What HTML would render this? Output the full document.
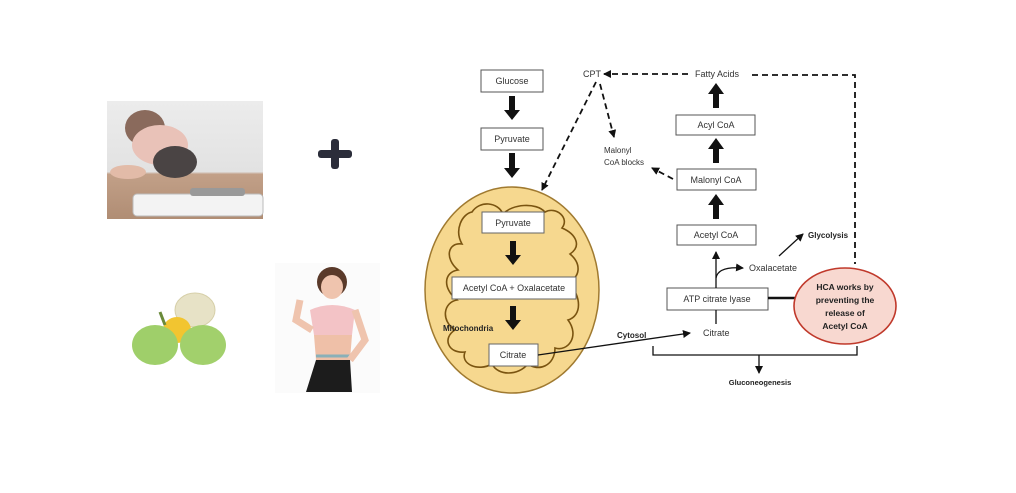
<!DOCTYPE html>
<html><head><meta charset="utf-8"><style>
body{margin:0;background:#fff;width:1016px;height:488px;overflow:hidden;font-family:"Liberation Sans",sans-serif}
</style></head><body>
<svg width="1016" height="488" viewBox="0 0 1016 488" xmlns="http://www.w3.org/2000/svg" font-family="Liberation Sans, sans-serif">
<defs>
<marker id="ah" markerWidth="8" markerHeight="8" refX="7" refY="4" orient="auto" markerUnits="userSpaceOnUse"><path d="M0,0 L8,4 L0,8 z" fill="#111"/></marker>
<linearGradient id="wall" x1="0" y1="0" x2="0" y2="1"><stop offset="0" stop-color="#ececec"/><stop offset="0.6" stop-color="#e2e2e2"/><stop offset="0.62" stop-color="#c2a088"/><stop offset="1" stop-color="#b08d74"/></linearGradient>
</defs>
<rect x="107" y="101" width="156" height="118" fill="url(#wall)"/>
<ellipse cx="145" cy="128" rx="20" ry="18" fill="#8a6a5c"/>
<ellipse cx="160" cy="145" rx="28" ry="20" fill="#e9c2b8"/>
<ellipse cx="175" cy="162" rx="22" ry="16" fill="#4a4444"/>
<ellipse cx="128" cy="172" rx="18" ry="7" fill="#e2bba8"/>
<rect x="133" y="194" width="130" height="22" rx="4" fill="#f3f3f3" stroke="#bbb"/>
<rect x="190" y="188" width="55" height="8" rx="3" fill="#999"/>
<rect x="318" y="150" width="34" height="8" rx="3" fill="#2b2d3a"/>
<rect x="331" y="139" width="8" height="30" rx="3" fill="#2b2d3a"/>
<ellipse cx="195" cy="310" rx="20" ry="17" fill="#e7e2c6" stroke="#d6cfa8"/>
<ellipse cx="177" cy="330" rx="14" ry="13" fill="#f2c530"/>
<ellipse cx="155" cy="345" rx="23" ry="20" fill="#9fcf6a"/>
<ellipse cx="203" cy="345" rx="23" ry="20" fill="#a2d06c"/>
<path d="M165 325 L160 312" stroke="#6a8a3a" stroke-width="3"/>
<rect x="275" y="263" width="105" height="130" fill="#fbfbfb"/>
<ellipse cx="332" cy="282" rx="15" ry="15" fill="#5a3a2a"/>
<ellipse cx="332" cy="287" rx="11" ry="12" fill="#efc4ae"/>
<path d="M310 310 Q332 300 355 310 L352 335 L314 335 Z" fill="#f3c3c6"/>
<path d="M314 335 L352 335 L350 360 L316 360 Z" fill="#efc0a8"/>
<path d="M316 360 L350 360 L352 392 L306 392 Z" fill="#1c1c1c"/>
<line x1="316" y1="356" x2="350" y2="356" stroke="#8ab0b8" stroke-width="3"/>
<path d="M300 300 L296 320 L312 330" stroke="#efc4ae" stroke-width="7" fill="none"/>
<path d="M355 310 L365 340 L350 360" stroke="#efc4ae" stroke-width="7" fill="none"/>

<g stroke="#555" stroke-width="1" fill="#fff">
<rect x="481" y="70" width="62" height="22"/>
<rect x="481" y="128" width="62" height="22"/>
</g>
<g font-size="9" fill="#333" text-anchor="middle">
<text x="512" y="84">Glucose</text>
<text x="512" y="142">Pyruvate</text>
</g>
<g fill="#111">
<path d="M509 96 h6 v14 h5 l-8 10 l-8 -10 h5z"/>
<path d="M509 153 h6 v15 h5 l-8 10 l-8 -10 h5z"/>
</g>
<ellipse cx="512" cy="290" rx="87" ry="103" fill="#f6d88f" stroke="#a07a30" stroke-width="1.5"/>
<path d="M472,212 C480,200 498,202 503,214 C512,204 536,202 545,212 C556,206 570,218 562,228 C576,234 582,246 570,254 C582,264 580,278 568,282 C582,296 582,316 568,320 C580,336 568,352 555,348 C555,366 538,372 528,364 C518,376 498,376 492,364 C478,372 460,364 465,352 C448,354 442,338 455,330 C440,320 444,302 457,300 C442,288 444,272 458,270 C444,258 448,242 462,244 C454,230 462,214 472,212 Z" fill="none" stroke="#7a5410" stroke-width="1.6"/>
<g stroke="#666" stroke-width="1" fill="#fff">
<rect x="482" y="212" width="62" height="21"/>
<rect x="452" y="277" width="124" height="22"/>
<rect x="489" y="344" width="49" height="22"/>
</g>
<g font-size="9" fill="#333" text-anchor="middle">
<text x="513" y="226">Pyruvate</text>
<text x="514" y="291">Acetyl CoA + Oxalacetate</text>
<text x="513" y="358">Citrate</text>
</g>
<g fill="#111">
<path d="M510 241 h6 v14 h5 l-8 10 l-8 -10 h5z"/>
<path d="M510 306 h6 v14 h5 l-8 10 l-8 -10 h5z"/>
</g>
<text x="443" y="331" font-size="8" font-weight="bold" fill="#222">Mitochondria</text>

<text x="583" y="77" font-size="9" fill="#333">CPT</text>
<g stroke="#111" stroke-width="1.8" stroke-dasharray="6,4" fill="none">
<line x1="688" y1="74" x2="604" y2="74" marker-end="url(#ah)"/>
<line x1="596" y1="82" x2="542" y2="190" marker-end="url(#ah)"/>
<line x1="600" y1="84" x2="614" y2="137" marker-end="url(#ah)"/>
<line x1="673" y1="179" x2="652" y2="168" marker-end="url(#ah)"/>
<polyline points="752,75 855,75 855,264"/>
</g>
<text x="604" y="153" font-size="8" fill="#333">Malonyl</text>
<text x="604" y="165" font-size="8" fill="#333">CoA blocks</text>
<text x="717" y="77" font-size="9" fill="#333" text-anchor="middle">Fatty Acids</text>
<g stroke="#555" stroke-width="1" fill="#fff">
<rect x="676" y="115" width="79" height="20"/>
<rect x="677" y="169" width="79" height="21"/>
<rect x="677" y="225" width="79" height="20"/>
<rect x="667" y="288" width="101" height="22"/>
</g>
<g font-size="9" fill="#333" text-anchor="middle">
<text x="716" y="128">Acyl CoA</text>
<text x="716" y="183">Malonyl CoA</text>
<text x="716" y="238">Acetyl CoA</text>
<text x="717" y="302">ATP citrate lyase</text>
</g>
<g fill="#111">
<path d="M713 108 h6 v-14 h5 l-8 -11 l-8 11 h5z"/>
<path d="M713 163 h6 v-14 h5 l-8 -11 l-8 11 h5z"/>
<path d="M713 219 h6 v-14 h5 l-8 -11 l-8 11 h5z"/>
</g>
<g stroke="#111" stroke-width="1.3" fill="none">
<line x1="716" y1="288" x2="716" y2="252" marker-end="url(#ah)"/>
<path d="M716 278 Q718 266 743 268" marker-end="url(#ah)"/>
<line x1="779" y1="256" x2="803" y2="234" marker-end="url(#ah)"/>
<line x1="716" y1="310" x2="716" y2="324"/>
<line x1="538" y1="355" x2="690" y2="333" marker-end="url(#ah)"/>
<polyline points="653,346 653,355 857,355 857,346"/>
<line x1="759" y1="355" x2="759" y2="373" marker-end="url(#ah)"/>
</g>
<line x1="768" y1="298" x2="795" y2="298" stroke="#111" stroke-width="2.5"/>
<text x="749" y="271" font-size="9" fill="#333">Oxalacetate</text>
<text x="808" y="238" font-size="8" font-weight="bold" fill="#222">Glycolysis</text>
<text x="703" y="336" font-size="9" fill="#333">Citrate</text>
<text x="617" y="338" font-size="8" font-weight="bold" fill="#222">Cytosol</text>
<text x="760" y="385" font-size="7.5" font-weight="bold" fill="#222" text-anchor="middle">Gluconeogenesis</text>
<ellipse cx="845" cy="306" rx="51" ry="38" fill="#f8d8d0" stroke="#c0392b" stroke-width="1.6"/>
<g font-size="8.5" font-weight="bold" fill="#222" text-anchor="middle">
<text x="845" y="290">HCA works by</text>
<text x="845" y="303">preventing the</text>
<text x="845" y="316">release of</text>
<text x="845" y="329">Acetyl CoA</text>
</g>
</svg>
</body></html>
